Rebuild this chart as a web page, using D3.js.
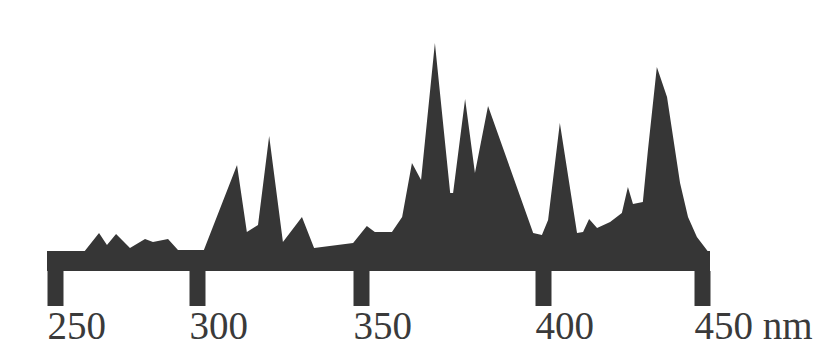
<!DOCTYPE html>
<html>
<head>
<meta charset="utf-8">
<script src="https://cdn.jsdelivr.net/npm/d3@7"></script>
<style>
  body { margin: 0; background: #fff; }
  svg { display: block; }
</style>
</head>
<body>
<svg id="chart" width="813" height="363"></svg>
<script>
// wavelength (nm) and relative intensity
const wavelengths = [260.2, 265.5, 268.3, 271.5, 276.4, 281.7, 284.5, 289.8, 293.3, 302.1,
  312.2, 315.2, 318.6, 322.0, 326.2, 332.0, 335.7, 347.6, 351.6, 353.8,
  358.5, 361.3, 364.0, 366.5, 370.3, 374.5, 375.3, 378.6, 381.3, 384.9,
  397.3, 399.7, 401.6, 405.3, 410.7, 412.6, 414.5, 417.0, 421.1, 424.8,
  426.7, 428.3, 431.4, 433.0, 435.8, 439.0, 443.1, 445.6, 448.4, 452.0];
const intensity = [0, 9.0, 3.3, 8.6, 1.9, 6.2, 4.8, 6.2, 1.0, 1.0,
  41.4, 9.5, 12.9, 55.2, 4.8, 16.7, 1.9, 4.3, 12.4, 9.5,
  9.5, 16.7, 42.4, 34.3, 99.5, 28.1, 28.1, 72.9, 37.6, 69.5,
  9.0, 8.1, 15.2, 61.4, 9.0, 9.5, 15.7, 11.4, 14.3, 18.6,
  31.0, 22.9, 23.8, 48.6, 88.1, 73.8, 32.9, 16.7, 7.1, 0];
const tickValues = [250, 300, 350, 400, 450];
const unit = 'nm';

const data = wavelengths.map((w, i) => ({ w, v: intensity[i] }));
const ink = '#363636';

const svg = d3.select('#chart');

// the original scale is drawn by hand, so the ticks are not evenly spaced
const x = d3.scaleLinear()
  .domain(tickValues)
  .range([55, 197, 361, 543, 702]);

const y = d3.scaleLinear()
  .domain([0, 100])
  .range([252, 42]);

const bandTop = y(0), bandBottom = 271, tickLen = 35, tickW = 16;

// baseline band
svg.append('rect')
  .attr('x', x(tickValues[0]) - tickW / 2)
  .attr('y', bandTop - 1)
  .attr('width', x(tickValues[tickValues.length - 1]) - x(tickValues[0]) + tickW)
  .attr('height', bandBottom - bandTop + 1)
  .attr('fill', ink);

// spectrum
const area = d3.area()
  .x(d => x(d.w))
  .y0(y(0))
  .y1(d => y(d.v));

svg.append('path')
  .datum(data)
  .attr('d', area)
  .attr('fill', ink);

// tick blocks and labels
const axis = d3.axisBottom(x)
  .tickValues(tickValues)
  .tickSize(tickLen)
  .tickFormat((d, i) => i === tickValues.length - 1 ? `${d} ${unit}` : d);

const $axis = svg.append('g')
  .attr('transform', `translate(0,${bandBottom})`)
  .call(axis)
  .attr('font-family', '"Liberation Serif", "Times New Roman", Times, serif')
  .attr('font-size', 39);

$axis.select('.domain').remove();
$axis.selectAll('.tick line')
  .attr('stroke', ink)
  .attr('stroke-width', tickW);
$axis.selectAll('.tick text')
  .attr('text-anchor', 'start')
  .attr('x', -tickW / 2)
  .attr('y', 68)
  .attr('dy', null)
  .attr('fill', '#3a3a3a')
  .style('font-family', '"Liberation Serif", "Times New Roman", serif');
</script>
</body>
</html>
